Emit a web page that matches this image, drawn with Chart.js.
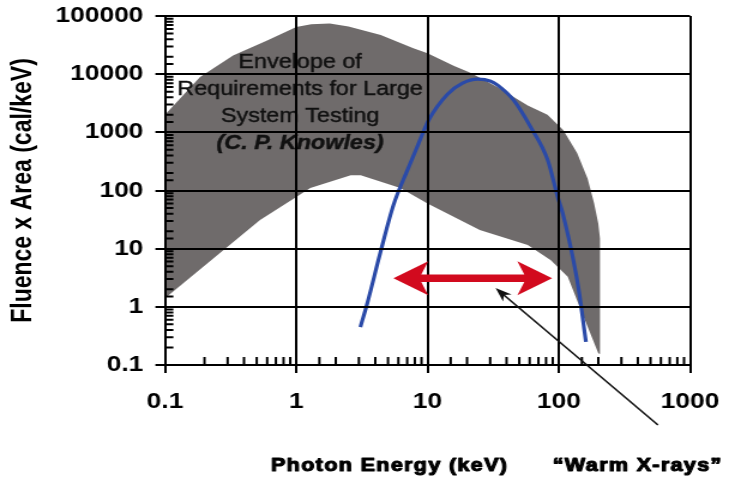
<!DOCTYPE html>
<html>
<head>
<meta charset="utf-8">
<script src="https://cdn.jsdelivr.net/npm/chart.js@4/dist/chart.umd.min.js"></script>
<style>
  html, body { margin: 0; padding: 0; background: #fff; overflow: hidden; }
  /* the original picture is stretched sideways, so the chart is too */
  #wrap { position: absolute; left: 0; top: 0; width: 608px; height: 492px; transform: scaleX(1.19901); transform-origin: 0 0; }
</style>
</head>
<body>
<div id="wrap"><canvas id="chart" width="608" height="492"></canvas></div>
<script>
// envelope of requirements, upper edge left -> right
const envUpperE = [0.1, 0.185, 0.33, 0.6, 1.0, 1.3, 1.8, 2.5, 4.4, 7.8, 10, 15.8, 21, 34, 58, 82, 108, 138, 166, 186, 200, 206, 206]
const envUpperF = [2000, 8900, 21000, 38000, 65000, 72000, 74000, 66000, 47000, 28000, 23000, 14000, 10700, 6000, 2900, 2000, 1100, 440, 160, 60, 27, 15, 0.155]
// lower edge right -> left
const envLowerE = [200, 150, 117, 87, 58, 25, 10, 6.2, 3.1, 2.6, 1.28, 1.0, 0.53, 0.1]
const envLowerF = [0.16, 0.8, 3.3, 6.3, 11.6, 21, 60, 110, 183, 183, 110, 77, 31, 1.4]

// warm x-ray spectrum (blue)
const specE = [3.08, 3.48, 4.38, 5.5, 7.03, 8.39, 10.2, 14.2, 18.5, 24.1, 30.3, 34.2, 45.3, 61.1, 82.4, 98.2, 107, 130, 142, 161]
const specF = [0.45, 1.16, 8.7, 56, 224, 580, 1620, 4530, 7000, 8200, 7580, 6480, 3570, 1230, 333, 77, 41, 5.9, 1.95, 0.25]

// red range arrow and black pointer
const rangeE = [5.5, 89]
const rangeF = 3.1
const pointerFrom = [570, 0.0093]
const pointerTo = [33, 2.1]

const xMin = 0.1, xMax = 1000
const yMin = 0.1, yMax = 100000

const envelopeLines = ['Envelope of', 'Requirements for Large', 'System Testing', '(C. P. Knowles)']
const xTitle = 'Photon Energy (keV)'
const yTitle = 'Fluence x Area (cal/keV)'
const noteText = '\u201CWarm X-rays\u201D'

const grayColor = '#6f6b6b'
const blueColor = '#2a4aa8'
const redColor = '#d20a1e'

function isDecade(v) {
  const l = Math.log10(v)
  return Math.abs(l - Math.round(l)) < 1e-6
}

const envelope = envUpperE.map((e, i) => ({ x: e, y: envUpperF[i] }))
  .concat(envLowerE.map((e, i) => ({ x: e, y: envLowerF[i] })))
const spectrum = specE.map((e, i) => ({ x: e, y: specF[i] }))

const overlay = {
  id: 'overlay',
  afterDatasetsDraw(chart) {
    const ctx = chart.ctx
    const cx = chart.scales.x.getPixelForValue(1.07)
    const base = [68, 95, 122, 149]
    ctx.save()
    ctx.fillStyle = '#111'
    ctx.strokeStyle = '#111'
    ctx.lineWidth = 0.4
    ctx.textAlign = 'center'
    ctx.textBaseline = 'alphabetic'
    envelopeLines.forEach((t, i) => {
      ctx.font = (i === 3 ? 'italic bold ' : '') + '19.5px "Liberation Sans", Arial, sans-serif'
      ctx.fillText(t, cx, base[i])
      ctx.strokeText(t, cx, base[i])
    })
    ctx.restore()
  },
  afterDraw(chart) {
    const ctx = chart.ctx
    const xs = chart.scales.x
    const ys = chart.scales.y
    const area = chart.chartArea
    ctx.save()

    // minor ticks pointing into the plot
    ctx.strokeStyle = '#000'
    ctx.lineWidth = 2
    ctx.beginPath()
    xs.ticks.forEach(t => {
      if (isDecade(t.value)) return
      const px = xs.getPixelForValue(t.value)
      ctx.moveTo(px, area.bottom)
      ctx.lineTo(px, area.bottom - 8)
    })
    ys.ticks.forEach(t => {
      if (isDecade(t.value)) return
      const py = ys.getPixelForValue(t.value)
      ctx.moveTo(area.left, py)
      ctx.lineTo(area.left + 7, py)
    })
    ctx.stroke()

    // red double arrow
    const x1 = xs.getPixelForValue(rangeE[0])
    const x2 = xs.getPixelForValue(rangeE[1])
    const y = ys.getPixelForValue(rangeF)
    const hl = 29, hh = 17, sh = 3.8, nl = hl * 0.8
    ctx.fillStyle = redColor
    ctx.beginPath()
    ctx.moveTo(x1, y)
    ctx.lineTo(x1 + hl, y - hh)
    ctx.lineTo(x1 + nl, y - sh)
    ctx.lineTo(x2 - nl, y - sh)
    ctx.lineTo(x2 - hl, y - hh)
    ctx.lineTo(x2, y)
    ctx.lineTo(x2 - hl, y + hh)
    ctx.lineTo(x2 - nl, y + sh)
    ctx.lineTo(x1 + nl, y + sh)
    ctx.lineTo(x1 + hl, y + hh)
    ctx.closePath()
    ctx.fill()

    // black pointer arrow
    const ax = xs.getPixelForValue(pointerFrom[0])
    const ay = ys.getPixelForValue(pointerFrom[1])
    const bx = xs.getPixelForValue(pointerTo[0])
    const by = ys.getPixelForValue(pointerTo[1])
    const ang = Math.atan2(by - ay, bx - ax)
    const len = 14, half = 5
    ctx.strokeStyle = '#111'
    ctx.lineWidth = 1.6
    ctx.beginPath()
    ctx.moveTo(ax, ay)
    ctx.lineTo(bx - Math.cos(ang) * len * 0.7, by - Math.sin(ang) * len * 0.7)
    ctx.stroke()
    ctx.fillStyle = '#111'
    ctx.beginPath()
    ctx.moveTo(bx, by)
    ctx.lineTo(bx - Math.cos(ang) * len - Math.sin(ang) * half, by - Math.sin(ang) * len + Math.cos(ang) * half)
    ctx.lineTo(bx - Math.cos(ang) * len * 0.7, by - Math.sin(ang) * len * 0.7)
    ctx.lineTo(bx - Math.cos(ang) * len + Math.sin(ang) * half, by - Math.sin(ang) * len - Math.cos(ang) * half)
    ctx.closePath()
    ctx.fill()

    // bottom captions
    ctx.font = 'bold 18px "Liberation Sans", Arial, sans-serif'
    ctx.letterSpacing = '1.1px'
    ctx.fillStyle = '#000'
    ctx.strokeStyle = '#000'
    ctx.lineWidth = 1.1
    ctx.lineJoin = 'round'
    ctx.textAlign = 'left'
    ctx.textBaseline = 'alphabetic'
    ctx.fillText(xTitle, 226, 471)
    ctx.strokeText(xTitle, 226, 471)
    ctx.fillText(noteText, 461, 471)
    ctx.strokeText(noteText, 461, 471)
    ctx.restore()
  }
}

const tickFont = { family: '"Liberation Sans", Arial, sans-serif', size: 22, weight: 'bold' }
const gridColor = c => (c.tick && isDecade(c.tick.value)) ? '#000' : 'rgba(0,0,0,0)'

new Chart(document.getElementById('chart'), {
  type: 'scatter',
  data: {
    datasets: [{
      data: envelope,
      order: 2,
      showLine: true,
      fill: 'shape',
      backgroundColor: grayColor,
      borderColor: grayColor,
      borderWidth: 0,
      pointRadius: 0,
      tension: 0,
    }, {
      data: spectrum,
      order: 1,
      showLine: true,
      fill: false,
      borderColor: blueColor,
      borderWidth: 3.2,
      pointRadius: 0,
      cubicInterpolationMode: 'monotone',
    }]
  },
  options: {
    responsive: false,
    animation: false,
    layout: { padding: { top: 16, right: 32.5, left: 0, bottom: 0 } },
    plugins: { legend: { display: false }, tooltip: { enabled: false } },
    scales: {
      x: {
        type: 'logarithmic',
        min: xMin,
        max: xMax,
        grid: { color: gridColor, lineWidth: 2, tickLength: 8, z: 1 },
        border: { display: true, color: '#000', width: 2, z: 1 },
        ticks: {
          autoSkip: false,
          maxRotation: 0,
          padding: 16,
          color: '#000',
          font: tickFont,
          z: 1,
          callback: v => isDecade(v) ? String(v) : '',
        },
        afterFit: s => {
          s.height = 127
          s.paddingLeft = 0
          s.paddingRight = 0
        },
      },
      y: {
        type: 'logarithmic',
        min: yMin,
        max: yMax,
        grid: { color: gridColor, lineWidth: 2, tickLength: 8, z: 1 },
        border: { display: true, color: '#000', width: 2, z: 1 },
        ticks: {
          autoSkip: false,
          padding: 10,
          color: '#000',
          font: tickFont,
          z: 1,
          callback: v => isDecade(v) ? String(v) : '',
        },
        title: {
          display: true,
          text: yTitle,
          color: '#000',
          padding: { top: 6, bottom: 0 },
          font: { family: '"Liberation Sans", Arial, sans-serif', size: 23, weight: 'bold' },
        },
        afterFit: s => {
          s.width = 137.6
          s.paddingTop = 0
          s.paddingBottom = 0
        },
      }
    }
  },
  plugins: [overlay]
})
</script>
</body>
</html>
